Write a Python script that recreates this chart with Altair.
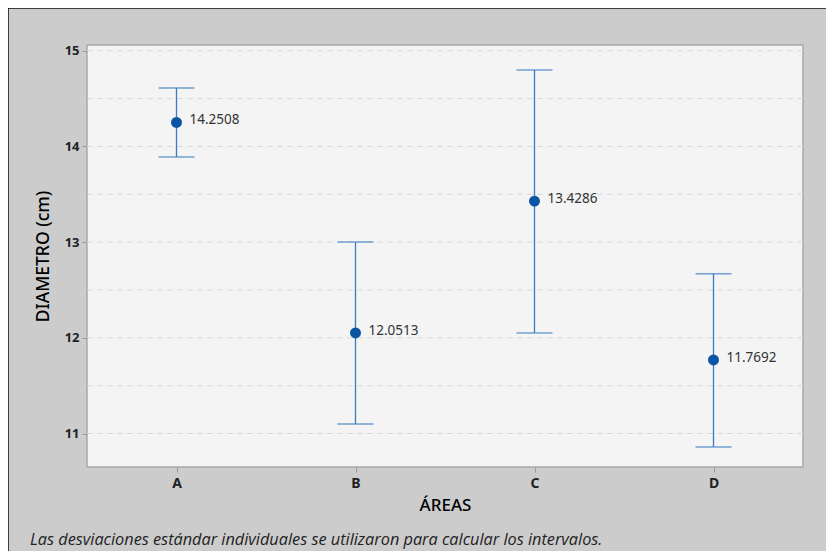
import altair as alt
import pandas as pd

areas = ["A", "B", "C", "D"]
means = [14.2508, 12.0513, 13.4286, 11.7692]
lower = [13.89, 11.10, 12.05, 10.86]
upper = [14.61, 13.00, 14.80, 12.67]
labels = ["14.2508", "12.0513", "13.4286", "11.7692"]
grid_values = [11.0, 11.5, 12.0, 12.5, 13.0, 13.5, 14.0, 14.5, 15.0]
tick_values = [11, 12, 13, 14, 15]
note = ["Las desviaciones estándar individuales se utilizaron para calcular los intervalos."]

df = pd.DataFrame({"area": areas, "mean": means, "lo": lower, "hi": upper, "label": labels})
grid_df = pd.DataFrame({"g": grid_values})
note_df = pd.DataFrame({"t": note})

FONT = "Noto Sans"
LINE = "#3a7cc3"
DOT = "#0a55a3"

x_enc = alt.X("area:N", scale=alt.Scale(domain=areas, type="point", padding=0.5),
              axis=alt.Axis(title="ÁREAS", labelAngle=0, labelFont=FONT, labelFontSize=14, labelFontWeight="bold",
                            labelColor="#222", titleFont=FONT, titleFontSize=17, titleFontWeight=500,
                            titleColor="#000", titlePadding=7, tickSize=5, tickColor="#999", domain=False,
                            labelPadding=4, grid=False))
y_scale = alt.Scale(domain=[10.65, 15.06], nice=False, zero=False)
y_axis = alt.Axis(title="DIAMETRO (cm)", values=tick_values, format="d", labelFont=FONT, labelFontSize=13,
                  labelFontWeight="bold", labelColor="#222", titleFont=FONT, titleFontSize=17.5,
                  titleFontWeight=500, titleColor="#000", titlePadding=12, tickSize=5, tickColor="#999",
                  domain=False, grid=False, labelPadding=3)

grid = alt.Chart(grid_df).mark_rule(color="#dadada", strokeDash=[6, 4], strokeWidth=1).encode(
    y=alt.Y("g:Q", scale=y_scale, axis=y_axis))

vline = alt.Chart(df).mark_rule(color=LINE, strokeWidth=1.3).encode(
    x=x_enc, y=alt.Y("lo:Q", scale=y_scale), y2="hi:Q")
cap_lo = alt.Chart(df).mark_tick(color=LINE, thickness=1.5, size=36, orient="horizontal").encode(
    x=alt.X("area:N"), y=alt.Y("lo:Q", scale=y_scale))
cap_hi = alt.Chart(df).mark_tick(color=LINE, thickness=1.5, size=36, orient="horizontal").encode(
    x=alt.X("area:N"), y=alt.Y("hi:Q", scale=y_scale))
dots = alt.Chart(df).mark_point(filled=True, color=DOT, size=120, opacity=1).encode(
    x=alt.X("area:N"), y=alt.Y("mean:Q", scale=y_scale))
txt = alt.Chart(df).mark_text(align="left", baseline="middle", dx=13, dy=-2, font=FONT, fontSize=13.5,
                              color="#333").encode(
    x=alt.X("area:N"), y=alt.Y("mean:Q", scale=y_scale), text="label:N")

foot = alt.Chart(note_df).mark_text(align="left", baseline="middle", font="Open Sans", fontSize=16.3,
                                    fontStyle="italic", fontWeight="normal", color="#222", clip=False).encode(
    x=alt.value(-57), y=alt.value(495), text="t:N")
border_left = alt.Chart(note_df).mark_rule(color="#111", strokeWidth=1.5, clip=False).encode(
    x=alt.value(-79), y=alt.value(-37), y2=alt.value(506))
border_top = alt.Chart(note_df).mark_rule(color="#111", strokeWidth=1.5, clip=False).encode(
    x=alt.value(-79), x2=alt.value(739), y=alt.value(-37))

chart = alt.layer(grid, vline, cap_lo, cap_hi, dots, txt, foot, border_left, border_top).properties(
    width=716, height=422,
    autosize=alt.AutoSizeParams(type="none"),
    padding={"left": 79, "top": 37, "right": 23, "bottom": 84},
    background="#cccccc",
).configure_view(fill="#f4f4f4", stroke="#a8a8a8", strokeWidth=1.5)

chart.save("out.html", embed_options={"renderer": "svg", "actions": False})
